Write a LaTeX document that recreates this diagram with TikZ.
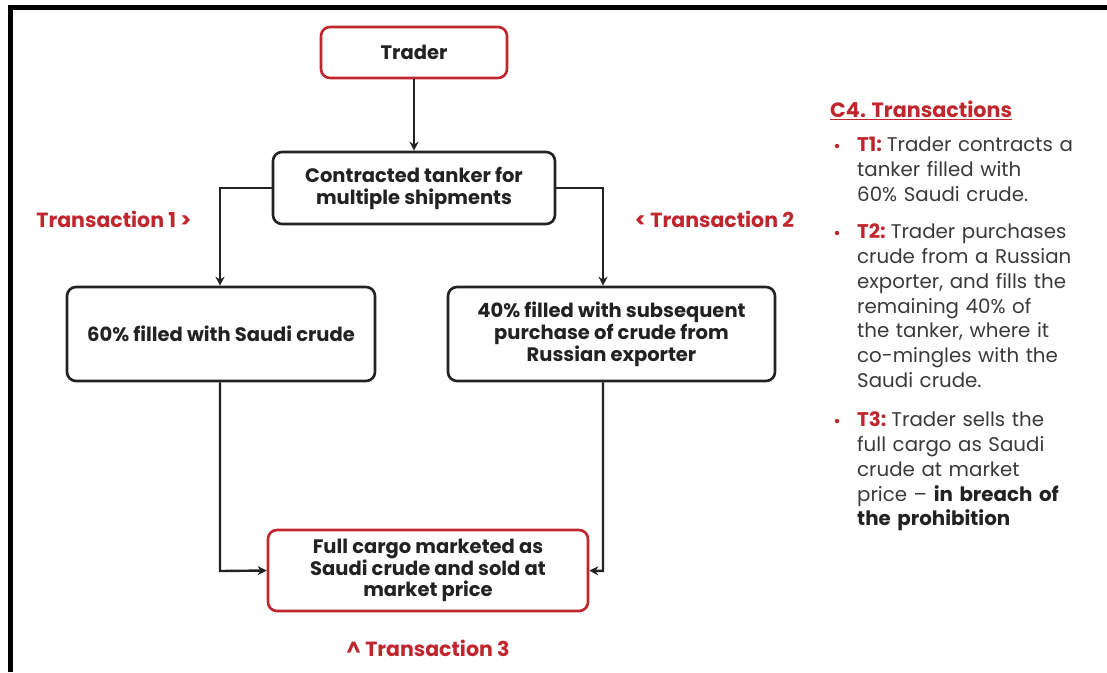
\documentclass[tikz,border=0pt]{standalone}
\usepackage{fontspec}
\setmainfont{Poppins}
\usetikzlibrary{arrows.meta,positioning}
\definecolor{cred}{HTML}{C0262D}
\definecolor{ctext}{HTML}{222222}
\definecolor{cgray}{HTML}{3A3A3A}
\tikzset{
  px/.style={x=1pt,y=-1pt},
  redbox/.style={draw=cred,line width=2.6pt,rounded corners=9pt,fill=white,align=center,font=\fontsize{19.5}{21.8}\selectfont\bfseries,text=ctext,inner sep=0pt},
  blackbox/.style={draw=ctext,line width=2.6pt,rounded corners=9pt,fill=white,align=center,font=\fontsize{19.5}{22}\selectfont\bfseries,text=ctext,inner sep=0pt},
  conn/.style={draw=ctext,line width=2.4pt,-{Stealth[length=9pt,width=9pt]}},
  translabel/.style={text=cred,font=\fontsize{20.5}{22}\selectfont\bfseries,inner sep=0pt},
  paneltext/.style={text=cgray,font=\fontsize{19.8}{24.7}\selectfont,align=left,anchor=north west,inner sep=0pt,text width=250pt},
  bulletmark/.style={circle,fill=cred,inner sep=0pt,minimum size=4.5pt},
}
\begin{document}
\begin{tikzpicture}[px]
\useasboundingbox (0,0) rectangle (1107,672);
\fill[white] (0,0) rectangle (1107,672);
% frame
\draw[black,line width=5pt] (10,672) -- (10,7.5) -- (1107,7.5);

% boxes
\node[redbox,minimum width=186pt,minimum height=51pt] (trader) at (414,52.5) {Trader};
\node[blackbox,minimum width=282pt,minimum height=72pt] (tanker) at (414,188) {Contracted tanker for\\multiple shipments};
\node[blackbox,minimum width=308pt,minimum height=94pt] (saudi) at (221,334) {60\% filled with Saudi crude};
\node[blackbox,minimum width=327pt,minimum height=94pt] (russia) at (611.5,334) {40\% filled with subsequent\\purchase of crude from\\Russian exporter};
\node[redbox,minimum width=320pt,minimum height=81pt] (cargo) at (428,570.5) {Full cargo marketed as\\Saudi crude and sold at\\market price};

% connector corner points
\coordinate (c1) at (220,188);
\coordinate (c2) at (603,188);
\coordinate (c3) at (220,571);
\coordinate (c4) at (603,571);

\draw[conn] (trader.south) -- (tanker.north);
\draw[conn] (tanker.west) -- (c1) -- (c1 |- saudi.north);
\draw[conn] (tanker.east) -- (c2) -- (c2 |- russia.north);
\draw[conn] (c3 |- saudi.south) -- (c3) -- (cargo.west);
\draw[conn] (c4 |- russia.south) -- (c4) -- (cargo.east);

% transaction labels
\node[translabel] (t1) at (114,219) {Transaction 1 >};
\node[translabel] (t2) at (714.5,219) {< Transaction 2};
\node[translabel] (t3) at (428,648) {\textasciicircum{} Transaction 3};

% right panel
\node[text=cred,font=\fontsize{20.7}{22}\selectfont\bfseries,anchor=west,inner sep=0pt] (head) at (830,110) {\underline{C4. Transactions}};
\node[bulletmark] (b1) at (837,146) {};
\node[paneltext] (p1) at (857,137) {\textcolor{cred}{\bfseries T1:}\hspace{0.25em}Trader contracts a\\tanker filled with\\60\% Saudi crude.};
\node[bulletmark] (b2) at (837,233) {};
\node[paneltext] (p2) at (857,224) {\textcolor{cred}{\bfseries T2:}\hspace{0.25em}Trader purchases\\crude from a Russian\\exporter, and fills the\\remaining 40\% of\\the tanker, where it\\co-mingles with the\\Saudi crude.};
\node[bulletmark] (b3) at (837,421) {};
\node[paneltext] (p3) at (857,412) {\textcolor{cred}{\bfseries T3:}\hspace{0.25em}Trader sells the\\full cargo as Saudi\\crude at market\\price -- \textcolor{ctext}{\bfseries in breach of}\\\textcolor{ctext}{\bfseries the prohibition}};
\end{tikzpicture}
\end{document}
